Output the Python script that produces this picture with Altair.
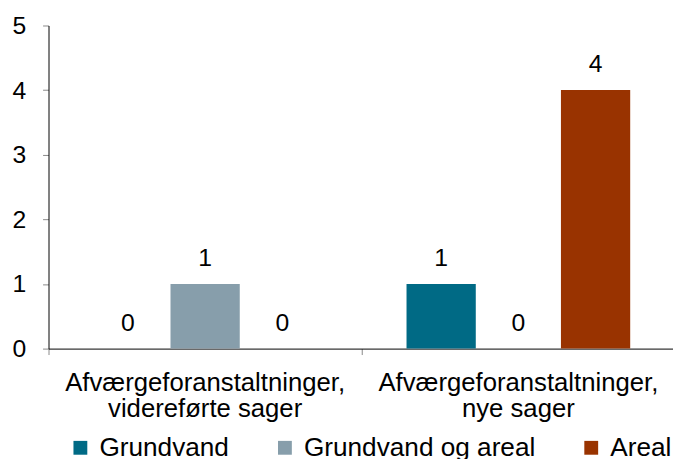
import altair as alt
import pandas as pd

categories = ["Afværgeforanstaltninger,\nvidereførte sager", "Afværgeforanstaltninger,\nnye sager"]
series = ["Grundvand", "Grundvand og areal", "Areal"]
values = {
    "Grundvand": [0, 1],
    "Grundvand og areal": [1, 0],
    "Areal": [0, 4],
}
colors = ["#006A85", "#879EAB", "#993300"]

rows = []
for s in series:
    for c, v in zip(categories, values[s]):
        rows.append({"kategori": c, "serie": s, "antal": v})
df = pd.DataFrame(rows)

FONT = "Liberation Sans"
FS = 25

xenc = alt.X("kategori:N", sort=categories, title=None,
             scale=alt.Scale(paddingInner=0, paddingOuter=0, range=[0, 634]),
             axis=alt.Axis(labelExpr="split(datum.label, '\\n')"))
xoff = alt.XOffset("serie:N", sort=series,
                   scale=alt.Scale(paddingInner=0.103, paddingOuter=0.58))
yenc = alt.Y("antal:Q", title=None, scale=alt.Scale(domain=[0, 5]),
             axis=alt.Axis(values=[0, 1, 2, 3, 4, 5], format="d"))

bars = alt.Chart(df).mark_bar().encode(
    x=xenc, xOffset=xoff, y=yenc,
    color=alt.Color("serie:N", sort=series, title=None,
                    scale=alt.Scale(domain=series, range=colors),
                    legend=alt.Legend(orient="none", legendX=19, legendY=414,
                                      direction="horizontal")),
)

texts = alt.Chart(df).mark_text(fontSize=FS, font=FONT, color="#000",
                                baseline="middle", dy=-26).encode(
    x=xenc, xOffset=xoff, y=yenc,
    text=alt.Text("antal:Q"),
)

chart = (bars + texts).properties(
    width=632, height=327,
    autosize=alt.AutoSizeParams(type="none"),
    padding={"left": 41, "top": 15, "right": 0, "bottom": 109},
).configure_view(stroke=None).configure_axis(
    labelFontSize=FS, labelFont=FONT, labelColor="#000", labelLimit=0,
    tickSize=6, tickColor="#888", domainColor="#000", grid=False,
).configure_axisX(
    labelFontSize=26, labelAngle=0, labelLineHeight=27, labelPadding=15, bandPosition=0,
).configure_axisY(
    labelPadding=17,
).configure_legend(
    symbolType="square", symbolSize=196, symbolStrokeWidth=0,
    labelFontSize=26.5, labelFont=FONT, labelColor="#000", labelLimit=0,
    columnPadding=43, labelOffset=6,
)

chart.save("out.html", embed_options={"renderer": "svg", "actions": False})
